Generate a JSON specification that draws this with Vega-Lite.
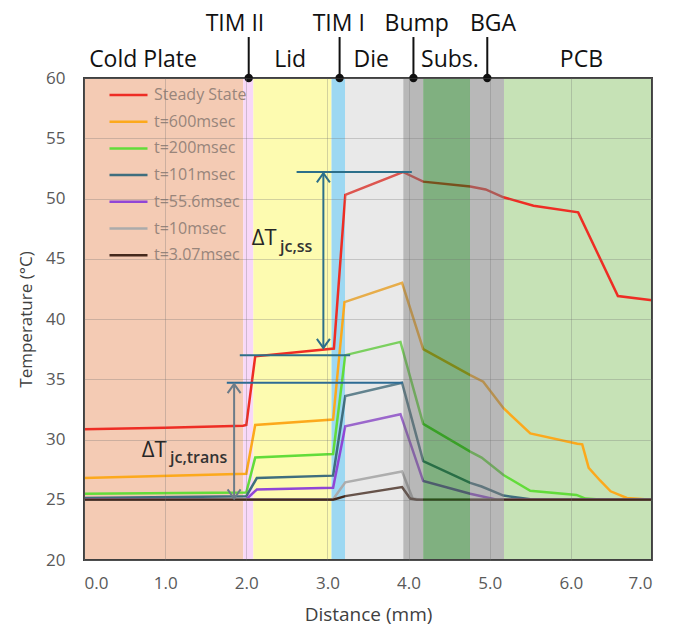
{
  "$schema": "https://vega.github.io/schema/vega-lite/v6.json",
  "width": 568,
  "height": 482,
  "autosize": {"type": "none"},
  "padding": {"left": 84, "top": 78, "right": 31, "bottom": 76},
  "background": "white",
  "config": {
    "font": "Open Sans",
    "view": {"stroke": "#404040", "strokeWidth": 2}
  },
  "datasets": {
    "bands": [
      {"band": "Cold Plate", "start": 0, "end": 1.963},
      {"band": "TIM II", "start": 1.963, "end": 2.087},
      {"band": "Lid", "start": 2.087, "end": 3.05},
      {"band": "TIM I", "start": 3.05, "end": 3.217},
      {"band": "Die", "start": 3.217, "end": 3.935},
      {"band": "Bump", "start": 3.935, "end": 4.18},
      {"band": "Substrate", "start": 4.18, "end": 4.757},
      {"band": "BGA", "start": 4.757, "end": 5.176},
      {"band": "PCB", "start": 5.176, "end": 7.0}
    ],
    "frame": [
      {"x": 0, "x2": 7, "y": 20, "y2": 20},
      {"x": 0, "x2": 7, "y": 60, "y2": 60},
      {"x": 0, "x2": 0, "y": 20, "y2": 60},
      {"x": 7, "x2": 7, "y": 20, "y2": 60}
    ],
    "curves": [
      {"series": "Steady State", "x": 0, "y": 30.85},
      {"series": "Steady State", "x": 1.0, "y": 30.97},
      {"series": "Steady State", "x": 1.96, "y": 31.15},
      {"series": "Steady State", "x": 2.0, "y": 31.2},
      {"series": "Steady State", "x": 2.11, "y": 36.9},
      {"series": "Steady State", "x": 3.08, "y": 37.55},
      {"series": "Steady State", "x": 3.22, "y": 50.3},
      {"series": "Steady State", "x": 3.93, "y": 52.2},
      {"series": "Steady State", "x": 4.18, "y": 51.4},
      {"series": "Steady State", "x": 4.76, "y": 51.0},
      {"series": "Steady State", "x": 4.95, "y": 50.75},
      {"series": "Steady State", "x": 5.17, "y": 50.1},
      {"series": "Steady State", "x": 5.54, "y": 49.4},
      {"series": "Steady State", "x": 6.09, "y": 48.85},
      {"series": "Steady State", "x": 6.58, "y": 41.9},
      {"series": "Steady State", "x": 7.0, "y": 41.55},
      {"series": "t=600msec", "x": 0, "y": 26.8},
      {"series": "t=600msec", "x": 2.0, "y": 27.15},
      {"series": "t=600msec", "x": 2.11, "y": 31.2},
      {"series": "t=600msec", "x": 3.07, "y": 31.65},
      {"series": "t=600msec", "x": 3.21, "y": 41.4},
      {"series": "t=600msec", "x": 3.92, "y": 43.0},
      {"series": "t=600msec", "x": 4.18, "y": 37.5},
      {"series": "t=600msec", "x": 4.76, "y": 35.35},
      {"series": "t=600msec", "x": 4.92, "y": 34.8},
      {"series": "t=600msec", "x": 5.17, "y": 32.6},
      {"series": "t=600msec", "x": 5.5, "y": 30.5},
      {"series": "t=600msec", "x": 6.08, "y": 29.65},
      {"series": "t=600msec", "x": 6.14, "y": 29.6},
      {"series": "t=600msec", "x": 6.22, "y": 27.65},
      {"series": "t=600msec", "x": 6.36, "y": 26.6},
      {"series": "t=600msec", "x": 6.49, "y": 25.7},
      {"series": "t=600msec", "x": 6.69, "y": 25.15},
      {"series": "t=600msec", "x": 7.0, "y": 25.0},
      {"series": "t=200msec", "x": 0, "y": 25.5},
      {"series": "t=200msec", "x": 2.0, "y": 25.6},
      {"series": "t=200msec", "x": 2.11, "y": 28.5},
      {"series": "t=200msec", "x": 3.07, "y": 28.8},
      {"series": "t=200msec", "x": 3.22, "y": 37.0},
      {"series": "t=200msec", "x": 3.9, "y": 38.1},
      {"series": "t=200msec", "x": 4.18, "y": 31.3},
      {"series": "t=200msec", "x": 4.76, "y": 29.0},
      {"series": "t=200msec", "x": 4.9, "y": 28.5},
      {"series": "t=200msec", "x": 5.17, "y": 27.05},
      {"series": "t=200msec", "x": 5.5, "y": 25.75},
      {"series": "t=200msec", "x": 6.07, "y": 25.4},
      {"series": "t=200msec", "x": 6.18, "y": 25.1},
      {"series": "t=200msec", "x": 6.4, "y": 25.0},
      {"series": "t=200msec", "x": 7.0, "y": 25.0},
      {"series": "t=101msec", "x": 0, "y": 25.15},
      {"series": "t=101msec", "x": 2.0, "y": 25.3},
      {"series": "t=101msec", "x": 2.13, "y": 26.8},
      {"series": "t=101msec", "x": 3.07, "y": 27.0},
      {"series": "t=101msec", "x": 3.22, "y": 33.6},
      {"series": "t=101msec", "x": 3.92, "y": 34.7},
      {"series": "t=101msec", "x": 4.18, "y": 28.2},
      {"series": "t=101msec", "x": 4.76, "y": 26.4},
      {"series": "t=101msec", "x": 4.9, "y": 26.1},
      {"series": "t=101msec", "x": 5.17, "y": 25.35},
      {"series": "t=101msec", "x": 5.5, "y": 25.05},
      {"series": "t=101msec", "x": 7.0, "y": 25.0},
      {"series": "t=55.6msec", "x": 0, "y": 25.05},
      {"series": "t=55.6msec", "x": 2.0, "y": 25.05},
      {"series": "t=55.6msec", "x": 2.13, "y": 25.85},
      {"series": "t=55.6msec", "x": 3.07, "y": 26.0},
      {"series": "t=55.6msec", "x": 3.22, "y": 31.1},
      {"series": "t=55.6msec", "x": 3.9, "y": 32.1},
      {"series": "t=55.6msec", "x": 4.18, "y": 26.55},
      {"series": "t=55.6msec", "x": 4.76, "y": 25.5},
      {"series": "t=55.6msec", "x": 5.09, "y": 25.0},
      {"series": "t=55.6msec", "x": 7.0, "y": 25.0},
      {"series": "t=10msec", "x": 0, "y": 25.0},
      {"series": "t=10msec", "x": 3.07, "y": 25.05},
      {"series": "t=10msec", "x": 3.22, "y": 26.45},
      {"series": "t=10msec", "x": 3.92, "y": 27.35},
      {"series": "t=10msec", "x": 4.05, "y": 25.1},
      {"series": "t=10msec", "x": 4.15, "y": 25.0},
      {"series": "t=10msec", "x": 7.0, "y": 25.0},
      {"series": "t=3.07msec", "x": 0, "y": 25.0},
      {"series": "t=3.07msec", "x": 3.07, "y": 25.0},
      {"series": "t=3.07msec", "x": 3.22, "y": 25.3},
      {"series": "t=3.07msec", "x": 3.92, "y": 26.05},
      {"series": "t=3.07msec", "x": 4.02, "y": 25.1},
      {"series": "t=3.07msec", "x": 4.1, "y": 25.0},
      {"series": "t=3.07msec", "x": 7.0, "y": 25.0}
    ],
    "ann": [
      {"x": 2.62, "x2": 4.04, "y": 52.2, "y2": 52.2, "g": "ss"},
      {"x": 1.92, "x2": 3.28, "y": 37.0, "y2": 37.0, "g": "ss"},
      {"x": 2.95, "x2": 2.95, "y": 52.1, "y2": 37.6, "g": "ss"},
      {"x": 1.76, "x2": 3.93, "y": 34.7, "y2": 34.7, "g": "trans"},
      {"x": 1.85, "x2": 1.85, "y": 34.6, "y2": 25.1, "g": "transv"}
    ],
    "arrows": [
      {"x": 2.95, "y": 52.1, "dir": "up", "g": "ss"},
      {"x": 2.95, "y": 37.6, "dir": "down", "g": "ss"},
      {"x": 1.85, "y": 34.6, "dir": "up", "g": "transv"},
      {"x": 1.85, "y": 25.1, "dir": "down", "g": "transv"}
    ],
    "dt": [
      {"x": 2.066, "y": 46.13, "t": "ΔT", "k": "big"},
      {"x": 2.416, "y": 45.55, "t": "jc,ss", "k": "sub"},
      {"x": 0.711, "y": 28.55, "t": "ΔT", "k": "big"},
      {"x": 1.06, "y": 28.02, "t": "jc,trans", "k": "sub"}
    ],
    "labels": [
      {"x": 0.727, "y": 61.5, "t": "Cold Plate"},
      {"x": 2.54, "y": 61.5, "t": "Lid"},
      {"x": 3.54, "y": 61.5, "t": "Die"},
      {"x": 4.51, "y": 61.5, "t": "Subs."},
      {"x": 6.13, "y": 61.5, "t": "PCB"},
      {"x": 1.86, "y": 64.49, "t": "TIM II"},
      {"x": 3.14, "y": 64.49, "t": "TIM I"},
      {"x": 4.1, "y": 64.49, "t": "Bump"},
      {"x": 5.04, "y": 64.49, "t": "BGA"}
    ],
    "markers": [
      {"x": 2.03, "y": 60, "y2": 63.4},
      {"x": 3.15, "y": 60, "y2": 63.4},
      {"x": 4.06, "y": 60, "y2": 63.4},
      {"x": 4.97, "y": 60, "y2": 63.4}
    ]
  },
  "layer": [
    {
      "data": {"name": "bands"},
      "transform": [{"filter": {"field": "band", "oneOf": ["Cold Plate", "TIM II", "Lid", "TIM I", "PCB"]}}],
      "mark": {"type": "rect"},
      "encoding": {
        "x": {
          "field": "start", "type": "quantitative",
          "scale": {"domain": [0, 7], "nice": false, "zero": false},
          "axis": {
            "title": "Distance (mm)", "values": [0, 1, 2, 3, 4, 5, 6, 7], "format": ".1f",
            "grid": true, "gridColor": "#707070", "gridOpacity": 0.3, "gridWidth": 1,
            "ticks": false, "domain": false, "labelFontSize": 17, "labelColor": "#595959",
            "labelPadding": 15, "titleFontSize": 19, "titleColor": "#404040", "titlePadding": 14,
            "titleFontWeight": "normal", "zindex": 1
          }
        },
        "x2": {"field": "end"},
        "fill": {
          "field": "band", "type": "nominal",
          "scale": {
            "domain": ["Cold Plate", "TIM II", "Lid", "TIM I", "Die", "Bump", "Substrate", "BGA", "PCB"],
            "range": ["#f4cbb4", "#f8d8f8", "#fdfbb0", "#9dd8f2", "#b6b6b6", "#7e7e7e", "#186f18", "#7e7e7e", "#c6e2b6"]
          },
          "legend": null
        }
      }
    },
    {
      "data": {"name": "curves"},
      "mark": {"type": "line", "strokeWidth": 2.5},
      "encoding": {
        "x": {"field": "x", "type": "quantitative"},
        "y": {
          "field": "y", "type": "quantitative",
          "scale": {"domain": [20, 60], "nice": false, "zero": false},
          "axis": {
            "title": "Temperature (°C)", "values": [20, 25, 30, 35, 40, 45, 50, 55, 60],
            "grid": true, "gridColor": "#707070", "gridOpacity": 0.3, "gridWidth": 1,
            "ticks": false, "domain": false, "labelFontSize": 17, "labelColor": "#595959",
            "labelPadding": 19, "titleFontSize": 17, "titleColor": "#404040", "titlePadding": 10,
            "titleFontWeight": "normal", "zindex": 1
          }
        },
        "stroke": {
          "field": "series", "type": "nominal",
          "scale": {
            "domain": ["Steady State", "t=600msec", "t=200msec", "t=101msec", "t=55.6msec", "t=10msec", "t=3.07msec"],
            "range": ["#ee2d24", "#fca91c", "#62dc3a", "#3f6e7e", "#9046d6", "#ababab", "#45291c"]
          },
          "legend": {
            "title": null, "orient": "none", "legendX": 24, "legendY": 7, "padding": 0,
            "symbolType": "stroke", "symbolSize": 1444, "symbolStrokeWidth": 2.5,
            "labelFontSize": 16, "labelColor": "#98857b", "labelOffset": 5,
            "clipHeight": 20, "rowPadding": 6.7
          }
        }
      }
    },
    {
      "data": {"name": "bands"},
      "transform": [{"filter": {"field": "band", "oneOf": ["Die"]}}],
      "mark": {"type": "rect", "opacity": 0.3},
      "encoding": {
        "x": {"field": "start", "type": "quantitative"},
        "x2": {"field": "end"},
        "fill": {"field": "band", "type": "nominal", "legend": null}
      }
    },
    {
      "data": {"name": "bands"},
      "transform": [{"filter": {"field": "band", "oneOf": ["Bump", "Substrate", "BGA"]}}],
      "mark": {"type": "rect", "opacity": 0.55},
      "encoding": {
        "x": {"field": "start", "type": "quantitative"},
        "x2": {"field": "end"},
        "fill": {"field": "band", "type": "nominal", "legend": null}
      }
    },
    {
      "data": {"name": "ann"},
      "mark": {"type": "rule", "strokeWidth": 2},
      "encoding": {
        "x": {"field": "x", "type": "quantitative"},
        "x2": {"field": "x2"},
        "y": {"field": "y", "type": "quantitative"},
        "y2": {"field": "y2"},
        "color": {
          "field": "g", "type": "nominal",
          "scale": {"domain": ["ss", "trans", "transv"], "range": ["#2c6f8a", "#2d6b94", "#6b7b88"]},
          "legend": null
        }
      }
    },
    {
      "data": {"name": "arrows"},
      "mark": {"type": "point", "filled": false, "strokeWidth": 2, "size": 169, "opacity": 1},
      "encoding": {
        "x": {"field": "x", "type": "quantitative"},
        "y": {"field": "y", "type": "quantitative"},
        "shape": {
          "field": "dir", "type": "nominal",
          "scale": {"domain": ["up", "down"], "range": ["M-1,1.4L0,0L1,1.4", "M-1,-1.4L0,0L1,-1.4"]},
          "legend": null
        },
        "color": {"field": "g", "type": "nominal", "legend": null}
      }
    },
    {
      "data": {"name": "dt"},
      "transform": [{"filter": {"field": "k", "equal": "big"}}],
      "mark": {"type": "text", "align": "left", "baseline": "alphabetic", "fontSize": 22, "fill": "#262626"},
      "encoding": {
        "x": {"field": "x", "type": "quantitative"},
        "y": {"field": "y", "type": "quantitative"},
        "text": {"field": "t"}
      }
    },
    {
      "data": {"name": "dt"},
      "transform": [{"filter": {"field": "k", "equal": "sub"}}],
      "mark": {"type": "text", "align": "left", "baseline": "alphabetic", "fontSize": 16, "fontWeight": 600, "fill": "#333333"},
      "encoding": {
        "x": {"field": "x", "type": "quantitative"},
        "y": {"field": "y", "type": "quantitative"},
        "text": {"field": "t"}
      }
    },
    {
      "data": {"name": "frame"},
      "mark": {"type": "rule", "strokeWidth": 2, "color": "#404040"},
      "encoding": {
        "x": {"field": "x", "type": "quantitative"},
        "x2": {"field": "x2"},
        "y": {"field": "y", "type": "quantitative"},
        "y2": {"field": "y2"}
      }
    },
    {
      "data": {"name": "markers"},
      "mark": {"type": "rule", "strokeWidth": 2, "color": "#111111"},
      "encoding": {
        "x": {"field": "x", "type": "quantitative"},
        "y": {"field": "y", "type": "quantitative"},
        "y2": {"field": "y2"}
      }
    },
    {
      "data": {"name": "markers"},
      "mark": {"type": "circle", "size": 70, "color": "#111111", "opacity": 1},
      "encoding": {
        "x": {"field": "x", "type": "quantitative"},
        "y": {"field": "y", "type": "quantitative"}
      }
    },
    {
      "data": {"name": "labels"},
      "mark": {"type": "text", "align": "center", "baseline": "middle", "fontSize": 23, "fill": "#111111"},
      "encoding": {
        "x": {"field": "x", "type": "quantitative"},
        "y": {"field": "y", "type": "quantitative"},
        "text": {"field": "t"}
      }
    }
  ]
}
